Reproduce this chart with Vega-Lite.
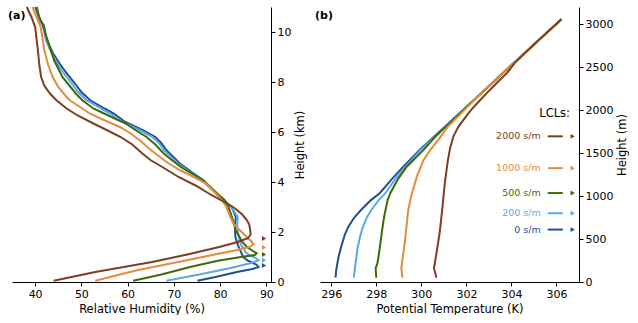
{
  "$schema": "https://vega.github.io/schema/vega-lite/v6.json",
  "padding": {"left": 8, "top": 3, "right": 0, "bottom": 0},
  "spacing": 8,
  "config": {
    "view": {"stroke": null},
    "font": "DejaVu Sans",
    "axis": {
      "domainColor": "black", "tickColor": "black", "labelColor": "black", "titleColor": "black",
      "labelFontSize": 11, "titleFontSize": 11.5, "titleFontWeight": "normal",
      "labelFont": "DejaVu Sans", "titleFont": "DejaVu Sans",
      "tickSize": 4, "labelPadding": 2, "titlePadding": 4, "grid": false,
      "domainWidth": 1, "tickWidth": 1, "labelFlush": false, "format": "d"
    }
  },
  "datasets": {
    "rh": [
      {"s":"0 s/m","z":0.05,"rh":75.1},{"s":"0 s/m","z":0.2,"rh":79.0},{"s":"0 s/m","z":0.4,"rh":83.6},{"s":"0 s/m","z":0.52,"rh":87.0},{"s":"0 s/m","z":0.6,"rh":88.3},{"s":"0 s/m","z":0.7,"rh":87.8},{"s":"0 s/m","z":0.85,"rh":86.0},{"s":"0 s/m","z":1.0,"rh":85.0},{"s":"0 s/m","z":1.4,"rh":84.0},{"s":"0 s/m","z":1.8,"rh":83.3},{"s":"0 s/m","z":2.2,"rh":83.2},{"s":"0 s/m","z":2.6,"rh":83.4},{"s":"0 s/m","z":3.0,"rh":82.5},{"s":"0 s/m","z":3.4,"rh":80.0},{"s":"0 s/m","z":3.8,"rh":77.8},{"s":"0 s/m","z":4.07,"rh":76.4},{"s":"0 s/m","z":4.4,"rh":73.8},{"s":"0 s/m","z":4.74,"rh":71.3},{"s":"0 s/m","z":5.0,"rh":69.9},{"s":"0 s/m","z":5.27,"rh":68.4},{"s":"0 s/m","z":5.55,"rh":67.3},{"s":"0 s/m","z":5.8,"rh":66.0},{"s":"0 s/m","z":6.07,"rh":63.3},{"s":"0 s/m","z":6.4,"rh":59.5},{"s":"0 s/m","z":6.74,"rh":57.0},{"s":"0 s/m","z":6.94,"rh":55.0},{"s":"0 s/m","z":7.27,"rh":51.9},{"s":"0 s/m","z":7.6,"rh":50.0},{"s":"0 s/m","z":7.94,"rh":48.6},{"s":"0 s/m","z":8.4,"rh":46.6},{"s":"0 s/m","z":8.74,"rh":45.3},{"s":"0 s/m","z":9.14,"rh":43.9},{"s":"0 s/m","z":9.67,"rh":42.5},{"s":"0 s/m","z":10.27,"rh":41.9},{"s":"0 s/m","z":10.5,"rh":40.9},{"s":"0 s/m","z":11.0,"rh":40.4},
      {"s":"200 s/m","z":0.05,"rh":68.4},{"s":"200 s/m","z":0.3,"rh":75.5},{"s":"200 s/m","z":0.55,"rh":82.0},{"s":"200 s/m","z":0.75,"rh":86.5},{"s":"200 s/m","z":0.87,"rh":88.3},{"s":"200 s/m","z":0.95,"rh":87.8},{"s":"200 s/m","z":1.05,"rh":86.5},{"s":"200 s/m","z":1.2,"rh":85.5},{"s":"200 s/m","z":1.5,"rh":84.5},{"s":"200 s/m","z":1.9,"rh":83.9},{"s":"200 s/m","z":2.3,"rh":83.7},{"s":"200 s/m","z":2.6,"rh":83.8},{"s":"200 s/m","z":3.0,"rh":82.4},{"s":"200 s/m","z":3.4,"rh":79.9},{"s":"200 s/m","z":3.8,"rh":77.6},{"s":"200 s/m","z":4.07,"rh":76.1},{"s":"200 s/m","z":4.4,"rh":73.4},{"s":"200 s/m","z":4.74,"rh":70.9},{"s":"200 s/m","z":5.0,"rh":69.4},{"s":"200 s/m","z":5.27,"rh":67.9},{"s":"200 s/m","z":5.55,"rh":66.8},{"s":"200 s/m","z":5.8,"rh":65.4},{"s":"200 s/m","z":6.07,"rh":62.7},{"s":"200 s/m","z":6.4,"rh":58.8},{"s":"200 s/m","z":6.74,"rh":56.2},{"s":"200 s/m","z":6.94,"rh":54.2},{"s":"200 s/m","z":7.27,"rh":51.1},{"s":"200 s/m","z":7.6,"rh":49.3},{"s":"200 s/m","z":7.94,"rh":47.9},{"s":"200 s/m","z":8.4,"rh":46.0},{"s":"200 s/m","z":8.74,"rh":44.8},{"s":"200 s/m","z":9.14,"rh":43.6},{"s":"200 s/m","z":9.67,"rh":42.3},{"s":"200 s/m","z":10.27,"rh":41.7},{"s":"200 s/m","z":10.5,"rh":40.8},{"s":"200 s/m","z":11.0,"rh":40.2},
      {"s":"500 s/m","z":0.05,"rh":61.2},{"s":"500 s/m","z":0.3,"rh":67.3},{"s":"500 s/m","z":0.6,"rh":73.5},{"s":"500 s/m","z":0.85,"rh":79.5},{"s":"500 s/m","z":1.0,"rh":84.5},{"s":"500 s/m","z":1.08,"rh":87.5},{"s":"500 s/m","z":1.15,"rh":87.9},{"s":"500 s/m","z":1.25,"rh":87.0},{"s":"500 s/m","z":1.4,"rh":85.8},{"s":"500 s/m","z":1.6,"rh":84.8},{"s":"500 s/m","z":2.07,"rh":83.4},{"s":"500 s/m","z":2.4,"rh":82.9},{"s":"500 s/m","z":2.74,"rh":82.3},{"s":"500 s/m","z":3.0,"rh":81.8},{"s":"500 s/m","z":3.27,"rh":81.0},{"s":"500 s/m","z":3.5,"rh":79.6},{"s":"500 s/m","z":3.8,"rh":77.9},{"s":"500 s/m","z":4.07,"rh":76.3},{"s":"500 s/m","z":4.3,"rh":74.2},{"s":"500 s/m","z":4.6,"rh":71.5},{"s":"500 s/m","z":4.9,"rh":69.4},{"s":"500 s/m","z":5.14,"rh":67.8},{"s":"500 s/m","z":5.5,"rh":66.0},{"s":"500 s/m","z":5.8,"rh":64.1},{"s":"500 s/m","z":6.1,"rh":61.5},{"s":"500 s/m","z":6.34,"rh":59.6},{"s":"500 s/m","z":6.74,"rh":54.9},{"s":"500 s/m","z":6.94,"rh":52.6},{"s":"500 s/m","z":7.27,"rh":50.2},{"s":"500 s/m","z":7.54,"rh":48.8},{"s":"500 s/m","z":8.2,"rh":45.9},{"s":"500 s/m","z":8.87,"rh":44.1},{"s":"500 s/m","z":9.67,"rh":42.7},{"s":"500 s/m","z":10.3,"rh":41.6},{"s":"500 s/m","z":10.6,"rh":40.9},{"s":"500 s/m","z":11.0,"rh":40.0},
      {"s":"1000 s/m","z":0.05,"rh":53.0},{"s":"1000 s/m","z":0.47,"rh":62.0},{"s":"1000 s/m","z":0.87,"rh":72.8},{"s":"1000 s/m","z":1.1,"rh":78.8},{"s":"1000 s/m","z":1.27,"rh":83.4},{"s":"1000 s/m","z":1.4,"rh":86.3},{"s":"1000 s/m","z":1.5,"rh":87.2},{"s":"1000 s/m","z":1.6,"rh":86.9},{"s":"1000 s/m","z":1.75,"rh":86.0},{"s":"1000 s/m","z":1.94,"rh":85.0},{"s":"1000 s/m","z":2.15,"rh":83.8},{"s":"1000 s/m","z":2.33,"rh":82.9},{"s":"1000 s/m","z":2.6,"rh":82.2},{"s":"1000 s/m","z":2.8,"rh":81.8},{"s":"1000 s/m","z":3.05,"rh":81.2},{"s":"1000 s/m","z":3.27,"rh":80.4},{"s":"1000 s/m","z":3.5,"rh":79.3},{"s":"1000 s/m","z":3.94,"rh":77.0},{"s":"1000 s/m","z":4.2,"rh":74.3},{"s":"1000 s/m","z":4.47,"rh":71.4},{"s":"1000 s/m","z":4.75,"rh":68.8},{"s":"1000 s/m","z":5.0,"rh":67.0},{"s":"1000 s/m","z":5.3,"rh":64.9},{"s":"1000 s/m","z":5.67,"rh":62.6},{"s":"1000 s/m","z":5.95,"rh":60.6},{"s":"1000 s/m","z":6.2,"rh":58.3},{"s":"1000 s/m","z":6.5,"rh":54.6},{"s":"1000 s/m","z":6.74,"rh":51.8},{"s":"1000 s/m","z":6.94,"rh":50.2},{"s":"1000 s/m","z":7.27,"rh":47.5},{"s":"1000 s/m","z":7.4,"rh":46.8},{"s":"1000 s/m","z":7.8,"rh":45.0},{"s":"1000 s/m","z":8.2,"rh":43.8},{"s":"1000 s/m","z":8.7,"rh":42.8},{"s":"1000 s/m","z":9.27,"rh":42.0},{"s":"1000 s/m","z":10.2,"rh":41.2},{"s":"1000 s/m","z":10.6,"rh":40.3},{"s":"1000 s/m","z":11.0,"rh":39.4},
      {"s":"2000 s/m","z":0.05,"rh":44.0},{"s":"2000 s/m","z":0.4,"rh":53.0},{"s":"2000 s/m","z":0.8,"rh":65.3},{"s":"2000 s/m","z":1.1,"rh":72.9},{"s":"2000 s/m","z":1.4,"rh":79.8},{"s":"2000 s/m","z":1.6,"rh":83.8},{"s":"2000 s/m","z":1.75,"rh":86.0},{"s":"2000 s/m","z":1.9,"rh":86.6},{"s":"2000 s/m","z":2.07,"rh":86.5},{"s":"2000 s/m","z":2.3,"rh":86.3},{"s":"2000 s/m","z":2.47,"rh":85.8},{"s":"2000 s/m","z":2.7,"rh":84.8},{"s":"2000 s/m","z":2.87,"rh":83.7},{"s":"2000 s/m","z":3.0,"rh":82.8},{"s":"2000 s/m","z":3.27,"rh":80.2},{"s":"2000 s/m","z":3.5,"rh":77.9},{"s":"2000 s/m","z":3.85,"rh":74.8},{"s":"2000 s/m","z":4.2,"rh":71.0},{"s":"2000 s/m","z":4.6,"rh":67.5},{"s":"2000 s/m","z":4.87,"rh":65.0},{"s":"2000 s/m","z":5.14,"rh":63.2},{"s":"2000 s/m","z":5.5,"rh":61.0},{"s":"2000 s/m","z":5.8,"rh":58.5},{"s":"2000 s/m","z":6.05,"rh":55.8},{"s":"2000 s/m","z":6.34,"rh":52.6},{"s":"2000 s/m","z":6.65,"rh":49.3},{"s":"2000 s/m","z":6.94,"rh":46.8},{"s":"2000 s/m","z":7.27,"rh":44.6},{"s":"2000 s/m","z":7.54,"rh":43.2},{"s":"2000 s/m","z":7.85,"rh":42.0},{"s":"2000 s/m","z":8.2,"rh":41.3},{"s":"2000 s/m","z":8.7,"rh":40.9},{"s":"2000 s/m","z":9.27,"rh":40.6},{"s":"2000 s/m","z":10.2,"rh":40.0},{"s":"2000 s/m","z":10.6,"rh":39.2},{"s":"2000 s/m","z":11.0,"rh":38.2}
    ],
    "th": [
      {"s":"0 s/m","h":50,"th":296.19},{"s":"0 s/m","h":140,"th":296.22},{"s":"0 s/m","h":300,"th":296.33},{"s":"0 s/m","h":411,"th":296.44},{"s":"0 s/m","h":550,"th":296.6},{"s":"0 s/m","h":644,"th":296.76},{"s":"0 s/m","h":750,"th":297.02},{"s":"0 s/m","h":838,"th":297.32},{"s":"0 s/m","h":950,"th":297.75},{"s":"0 s/m","h":1033,"th":298.15},{"s":"0 s/m","h":1200,"th":298.7},{"s":"0 s/m","h":1342,"th":299.2},{"s":"0 s/m","h":1537,"th":299.92},{"s":"0 s/m","h":2000,"th":301.84},{"s":"0 s/m","h":2500,"th":303.9},{"s":"0 s/m","h":3058,"th":306.22},
      {"s":"200 s/m","h":50,"th":297.0},{"s":"200 s/m","h":140,"th":297.04},{"s":"200 s/m","h":300,"th":297.12},{"s":"200 s/m","h":411,"th":297.18},{"s":"200 s/m","h":550,"th":297.3},{"s":"200 s/m","h":644,"th":297.41},{"s":"200 s/m","h":750,"th":297.58},{"s":"200 s/m","h":838,"th":297.78},{"s":"200 s/m","h":950,"th":298.1},{"s":"200 s/m","h":1033,"th":298.4},{"s":"200 s/m","h":1200,"th":298.85},{"s":"200 s/m","h":1342,"th":299.3},{"s":"200 s/m","h":1537,"th":299.97},{"s":"200 s/m","h":2000,"th":301.85},{"s":"200 s/m","h":2500,"th":303.9},{"s":"200 s/m","h":3058,"th":306.22},
      {"s":"500 s/m","h":50,"th":298.0},{"s":"500 s/m","h":160,"th":297.97},{"s":"500 s/m","h":218,"th":298.05},{"s":"500 s/m","h":350,"th":298.13},{"s":"500 s/m","h":528,"th":298.22},{"s":"500 s/m","h":700,"th":298.31},{"s":"500 s/m","h":800,"th":298.38},{"s":"500 s/m","h":950,"th":298.5},{"s":"500 s/m","h":1033,"th":298.62},{"s":"500 s/m","h":1200,"th":298.97},{"s":"500 s/m","h":1342,"th":299.35},{"s":"500 s/m","h":1537,"th":300.1},{"s":"500 s/m","h":1700,"th":300.65},{"s":"500 s/m","h":2000,"th":301.86},{"s":"500 s/m","h":2500,"th":303.9},{"s":"500 s/m","h":3058,"th":306.22},
      {"s":"1000 s/m","h":50,"th":299.16},{"s":"1000 s/m","h":160,"th":299.11},{"s":"1000 s/m","h":450,"th":299.26},{"s":"1000 s/m","h":838,"th":299.42},{"s":"1000 s/m","h":1000,"th":299.55},{"s":"1000 s/m","h":1226,"th":299.8},{"s":"1000 s/m","h":1420,"th":300.1},{"s":"1000 s/m","h":1537,"th":300.4},{"s":"1000 s/m","h":1653,"th":300.75},{"s":"1000 s/m","h":1800,"th":301.15},{"s":"1000 s/m","h":1924,"th":301.62},{"s":"1000 s/m","h":2235,"th":302.8},{"s":"1000 s/m","h":2500,"th":303.9},{"s":"1000 s/m","h":3058,"th":306.22},
      {"s":"2000 s/m","h":50,"th":300.67},{"s":"2000 s/m","h":160,"th":300.56},{"s":"2000 s/m","h":350,"th":300.68},{"s":"2000 s/m","h":567,"th":300.81},{"s":"2000 s/m","h":850,"th":300.93},{"s":"2000 s/m","h":1149,"th":301.04},{"s":"2000 s/m","h":1420,"th":301.18},{"s":"2000 s/m","h":1560,"th":301.28},{"s":"2000 s/m","h":1692,"th":301.42},{"s":"2000 s/m","h":1800,"th":301.63},{"s":"2000 s/m","h":1886,"th":301.87},{"s":"2000 s/m","h":2000,"th":302.2},{"s":"2000 s/m","h":2080,"th":302.48},{"s":"2000 s/m","h":2235,"th":303.04},{"s":"2000 s/m","h":2350,"th":303.48},{"s":"2000 s/m","h":2430,"th":303.8},{"s":"2000 s/m","h":2550,"th":304.15},{"s":"2000 s/m","h":2800,"th":305.15},{"s":"2000 s/m","h":3058,"th":306.22}
    ],
    "lclL": [
      {"s":"2000 s/m","z":1.74},{"s":"1000 s/m","z":1.38},{"s":"500 s/m","z":1.1},{"s":"200 s/m","z":0.87},{"s":"0 s/m","z":0.66}
    ],
    "lclR": [
      {"s":"2000 s/m","h":1695},{"s":"1000 s/m","h":1325},{"s":"500 s/m","h":1035},{"s":"200 s/m","h":800},{"s":"0 s/m","h":610}
    ]
  },
  "hconcat": [
    {
      "width": 259, "height": 275,
      "layer": [
        {
          "data": {"name": "rh"},
          "mark": {"type": "line", "strokeWidth": 2},
          "encoding": {
            "x": {"field": "rh", "type": "quantitative", "scale": {"domain": [35, 91], "nice": false, "zero": false}, "axis": {"title": "Relative Humidity (%)", "values": [40, 50, 60, 70, 80, 90]}},
            "y": {"field": "z", "type": "quantitative", "scale": {"domain": [0, 11], "nice": false}, "axis": {"orient": "right", "title": "Height (km)", "values": [0, 2, 4, 6, 8, 10], "titleAngle": 270, "titleBaseline": "top"}},
            "color": {"field": "s", "type": "nominal", "scale": {"domain": ["0 s/m", "200 s/m", "500 s/m", "1000 s/m", "2000 s/m"], "range": ["#1f4f91", "#5ba8e8", "#3f6a06", "#e58b3d", "#7d3e22"]}, "legend": null},
            "order": {"field": "z", "type": "quantitative"}
          }
        },
        {
          "data": {"name": "lclL"},
          "mark": {"type": "point", "shape": "triangle-right", "filled": true, "opacity": 1, "size": 24},
          "encoding": {
            "x": {"datum": 89.5, "type": "quantitative"},
            "y": {"field": "z", "type": "quantitative"},
            "color": {"field": "s", "type": "nominal", "legend": null}
          }
        },
        {
          "data": {"values": [{"label": "(a)"}]},
          "mark": {"type": "text", "fontWeight": "bold", "fontSize": 11, "align": "left", "baseline": "middle", "dx": -4, "color": "black"},
          "encoding": {
            "x": {"datum": 35, "type": "quantitative"},
            "y": {"datum": 10.63, "type": "quantitative"},
            "text": {"field": "label"}
          }
        }
      ]
    },
    {
      "width": 259, "height": 275,
      "layer": [
        {
          "data": {"name": "th"},
          "mark": {"type": "line", "strokeWidth": 2},
          "encoding": {
            "x": {"field": "th", "type": "quantitative", "scale": {"domain": [295.5, 307], "nice": false, "zero": false}, "axis": {"title": "Potential Temperature (K)", "values": [296, 298, 300, 302, 304, 306]}},
            "y": {"field": "h", "type": "quantitative", "scale": {"domain": [0, 3200], "nice": false}, "axis": {"orient": "right", "title": "Height (m)", "values": [0, 500, 1000, 1500, 2000, 2500, 3000], "titleAngle": 270, "titleBaseline": "top"}},
            "color": {"field": "s", "type": "nominal", "scale": {"domain": ["0 s/m", "200 s/m", "500 s/m", "1000 s/m", "2000 s/m"], "range": ["#1f4f91", "#5ba8e8", "#3f6a06", "#e58b3d", "#7d3e22"]}, "legend": null},
            "order": {"field": "h", "type": "quantitative"}
          }
        },
        {
          "data": {"name": "lclR"},
          "mark": {"type": "rule", "strokeWidth": 2},
          "encoding": {
            "x": {"datum": 305.61, "type": "quantitative"},
            "x2": {"datum": 306.28},
            "y": {"field": "h", "type": "quantitative"},
            "color": {"field": "s", "type": "nominal", "legend": null}
          }
        },
        {
          "data": {"name": "lclR"},
          "mark": {"type": "point", "shape": "triangle-right", "filled": true, "opacity": 1, "size": 24},
          "encoding": {
            "x": {"datum": 306.72, "type": "quantitative"},
            "y": {"field": "h", "type": "quantitative"},
            "color": {"field": "s", "type": "nominal", "legend": null}
          }
        },
        {
          "data": {"name": "lclR"},
          "mark": {"type": "text", "fontSize": 9.5, "align": "right", "baseline": "middle"},
          "encoding": {
            "x": {"datum": 305.3, "type": "quantitative"},
            "y": {"field": "h", "type": "quantitative"},
            "text": {"field": "s"},
            "color": {"field": "s", "type": "nominal", "legend": null}
          }
        },
        {
          "data": {"values": [{"label": "LCLs:"}]},
          "mark": {"type": "text", "fontSize": 11.5, "align": "right", "baseline": "middle", "color": "black"},
          "encoding": {
            "x": {"datum": 306.6, "type": "quantitative"},
            "y": {"datum": 1956, "type": "quantitative"},
            "text": {"field": "label"}
          }
        },
        {
          "data": {"values": [{"label": "(b)"}]},
          "mark": {"type": "text", "fontWeight": "bold", "fontSize": 11, "align": "left", "baseline": "middle", "dx": -5, "color": "black"},
          "encoding": {
            "x": {"datum": 295.5, "type": "quantitative"},
            "y": {"datum": 3097, "type": "quantitative"},
            "text": {"field": "label"}
          }
        }
      ]
    }
  ]
}
